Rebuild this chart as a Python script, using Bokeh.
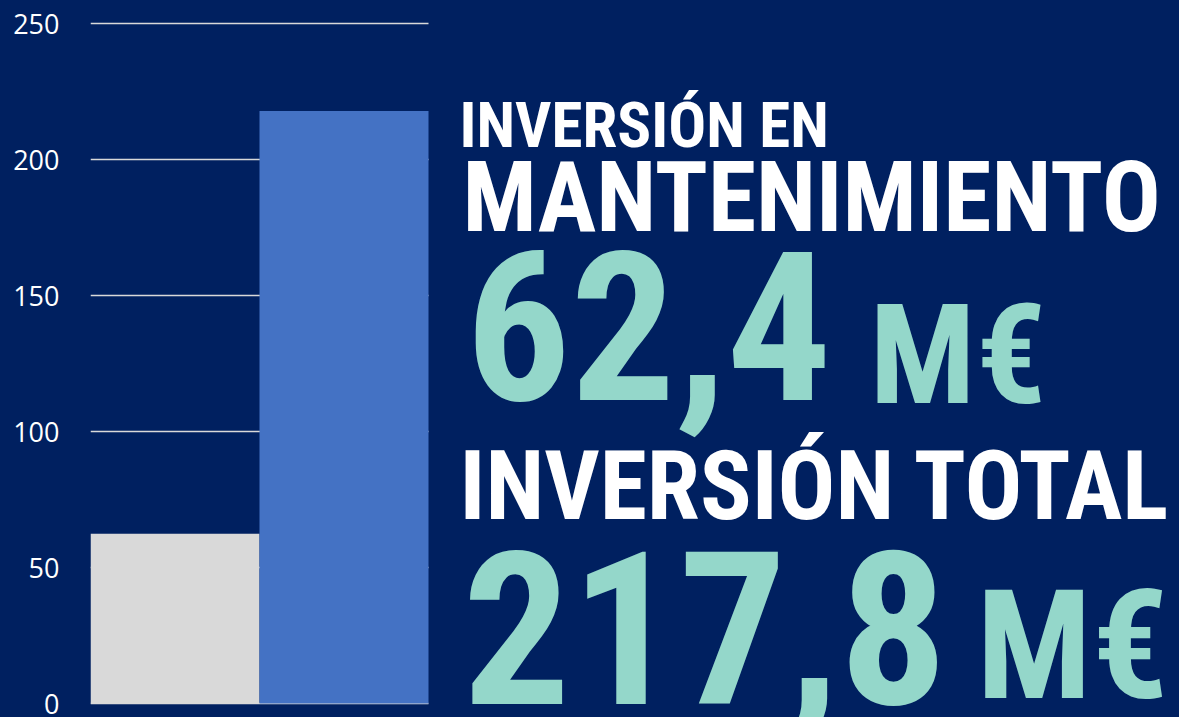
import numpy as np
from bokeh.plotting import figure
from bokeh.models import Range1d, Label, FixedTicker
from bokeh.embed import file_html
from bokeh.resources import INLINE

# ---- data ----
categories = ["Mantenimiento", "Total"]
values = [62.4, 217.8]
bar_colors = ["#D9D9D9", "#4472C4"]
y_ticks = [0, 50, 100, 150, 200, 250]
titles = ["INVERSIÓN EN", "MANTENIMIENTO", "INVERSIÓN TOTAL"]
unit = "M€"

BG = "#002060"
TEAL = "#94D7CA"
FONT = "Roboto Condensed"

W, H = 1179, 717
FL, FT, FB = 90, 23, 703          # frame left, y=250 pixel, y=0 pixel
BAR_R = 428                       # right edge of last bar
ypx = (FB - FT) / max(y_ticks)    # pixels per unit (y)
xpx = (BAR_R - FL) / len(categories)

x = np.arange(len(categories)) + 0.5

p = figure(width=W, height=H, output_backend="svg", toolbar_location=None,
           x_range=Range1d(0, (W - FL) / xpx),
           y_range=Range1d(-(H - FB) / ypx, max(y_ticks) + FT / ypx),
           min_border_left=FL, min_border_right=0, min_border_top=0, min_border_bottom=0)
p.background_fill_color = BG
p.border_fill_color = BG
p.outline_line_color = None
p.styles = {"background-color": BG}

# horizontal gridlines spanning the bars only
p.segment(x0=0, x1=len(categories), y0=y_ticks, y1=y_ticks, line_color="#D9D9D9", line_width=1.5)
p.vbar(x=x, top=values, width=1.0, color=bar_colors, line_color=None)

p.xaxis.visible = False
p.grid.visible = False
p.yaxis.ticker = FixedTicker(ticks=y_ticks)
p.yaxis.axis_line_color = None
p.yaxis.major_tick_line_color = None
p.yaxis.minor_tick_line_color = None
p.yaxis.major_label_standoff = 25
p.yaxis.major_label_text_color = "#FFFFFF"
p.yaxis.major_label_text_font = "Open Sans"
p.yaxis.major_label_text_font_size = "27px"

def fmt(v):
    return f"{v:.1f}".replace(".", ",")

def lab(text, px, base, size, color):
    py = base - 0.36 * size
    p.add_layout(Label(x=(px - FL) / xpx, y=(FB - py) / ypx, text=text, text_font=FONT,
                       text_font_style="bold", text_font_size=f"{size}px", text_color=color,
                       text_baseline="alphabetic", text_align="left"))

lab(titles[0], 459, 148, 63, "#FFFFFF")
lab(titles[1], 462, 232, 98, "#FFFFFF")
lab(fmt(values[0]), 465, 400, 208, TEAL)
lab(unit, 869, 405, 140, TEAL)
lab(titles[2], 459, 520, 96, "#FFFFFF")
lab(fmt(values[1]), 462, 705, 214, TEAL)
lab(unit, 976, 700, 152, TEAL)

open("out.html", "w").write(file_html(p, INLINE))
